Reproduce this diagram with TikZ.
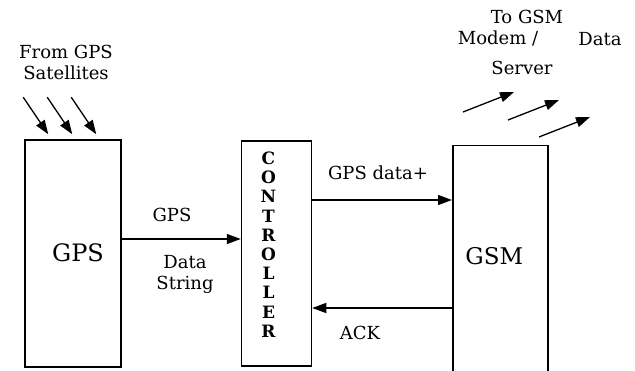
\documentclass[tikz,border=0pt]{standalone}
\usepackage{fontspec}
\setmainfont{DejaVu Serif}
\usepackage{tikz}
\usetikzlibrary{arrows.meta,positioning,calc}

\begin{document}
\begin{tikzpicture}[
    x=1pt, y=-1pt,
    font=\fontsize{18}{21}\selectfont,
    box/.style={draw=black, line width=1.5pt, inner sep=0pt,
      font=\fontsize{24}{28}\selectfont},
    arrow/.style={-{Triangle[length=14pt,width=10pt]}, line width=1.3pt}
  ]
    \useasboundingbox (0,0) rectangle (635,371);
    \node[box, minimum width=96pt, minimum height=227pt,
      label={[xshift=5pt, yshift=1pt, font=\fontsize{24}{28}\selectfont]center:GPS}]
      (gps) at (73,253.5) {};
    \node[box, minimum width=70pt, minimum height=225pt, right=119pt of gps,
      label={[xshift=-8pt, yshift=9pt, align=center,
        font=\fontsize{17}{19.2}\selectfont\bfseries]center:C\\O\\N\\T\\R\\O\\L\\L\\E\\R}]
      (ctrl) {};
    \node[box, minimum width=95pt, minimum height=246pt, anchor=north west,
      label={[xshift=-6pt, yshift=13pt, font=\fontsize{23}{28}\selectfont]center:GSM}]
      (gsm) at (452,145) {};
    \draw[arrow] ([yshift=14.5pt]gps.east) -- ([yshift=14.5pt]gps.east -| ctrl.west);
    \draw[arrow] ([yshift=53.5pt]ctrl.east) -- ([yshift=53.5pt]ctrl.east -| gsm.west);
    \draw[arrow] ([yshift=-54.5pt]ctrl.east -| gsm.west) -- ([yshift=-54.5pt]ctrl.east);
    \node (gpslbl) at (172,215) {GPS};
    \node[align=center] (datastr) at (185,274) {Data\\String};
    \node (gpsdata) at (378,173) {GPS data+};
    \node (ack) at (360,333) {ACK};
    % satellites
    \node[align=center] (sat) at (66,62) {From GPS\\Satellites};
    \foreach \dx in {-1,23,47}
      \draw[arrow] ([xshift=\dx pt, yshift=42pt]gps.north west) -- ++(25,37);
    % to server
    \node (togsm) at (527,17) {To GSM};
    \node (modem) at (498,39) {Modem /};
    \node (data) at (600,39) {Data};
    \node (server) at (522,68) {Server};
    \foreach \dx/\dy in {11/33, 56/25, 87/8}
      \draw[arrow] ([xshift=\dx pt, yshift=\dy pt]gsm.north west) -- ++(51,-20);
  \end{tikzpicture}
\end{document}
